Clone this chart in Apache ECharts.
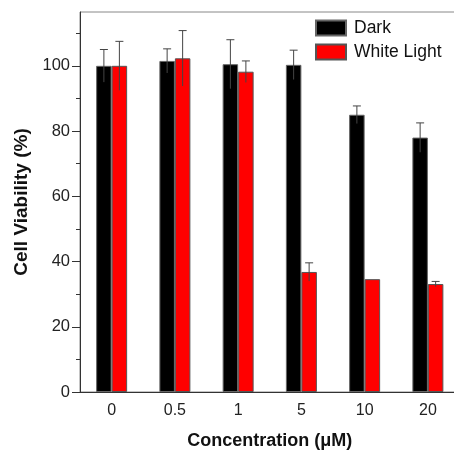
<!DOCTYPE html>
<html>
<head>
<meta charset="utf-8">
<script src="https://cdn.jsdelivr.net/npm/echarts@6/dist/echarts.min.js"></script>
<style>html,body{margin:0;padding:0;background:#fff;}#c{width:454px;height:452px;}</style>
</head>
<body>
<div id="c"></div>
<script>
const categories = ['0', '0.5', '1', '5', '10', '20'];
const darkValues = [100, 101.5, 100.5, 100.3, 85, 78];
const darkErrors = [5, 3.7, 7.5, 4.5, 2.7, 4.5];
const lightValues = [100, 102.3, 98.2, 36.8, 34.6, 33.1];
const lightErrors = [7.5, 8.5, 3.3, 2.8, 0, 0.8];
const yMajorTicks = [0, 20, 40, 60, 80, 100];
const yMinorTicks = [10, 30, 50, 70, 90, 110];

const FONT = 'Arial, "Liberation Sans", sans-serif';
const BW = 15.5;

function errRender(sign, color) {
  return function (params, api) {
    const i = api.value(0), v = api.value(1), e = api.value(2);
    if (!e) return null;
    const c = api.coord([i, v]);
    const x = c[0] + sign * BW / 2;
    const top = api.coord([i, v + e])[1];
    const bot = api.coord([i, v - e])[1];
    return {
      type: 'group',
      children: [
        {type: 'line', shape: {x1: x, y1: top, x2: x, y2: bot}, style: {stroke: color, lineWidth: 1}},
        {type: 'line', shape: {x1: x - 4, y1: top, x2: x + 4, y2: top}, style: {stroke: color, lineWidth: 1}}
      ]
    };
  };
}

const chart = echarts.init(document.getElementById('c'), null, {renderer: 'canvas'});
chart.setOption({
  backgroundColor: '#fff',
  animation: false,
  textStyle: {fontFamily: FONT},
  grid: {left: 80, top: 12, width: 379.5, height: 380, outerBoundsMode: 'none', containLabel: false,
    show: true, borderColor: '#888', borderWidth: 1, backgroundColor: 'transparent'},
  legend: {
    orient: 'vertical', left: 310, top: 14, itemWidth: 30, itemHeight: 15, itemGap: 6,
    icon: 'rect',
    textStyle: {fontSize: 17.5, color: '#111', fontFamily: FONT, padding: [0, 0, 0, 3]},
    data: ['Dark', 'White Light']
  },
  xAxis: [
    {
      type: 'category', data: categories, position: 'bottom',
      axisLine: {lineStyle: {color: '#333', width: 1}},
      axisTick: {alignWithLabel: true, length: 5, lineStyle: {color: '#333'}},
      axisLabel: {fontSize: 16, color: '#222', margin: 11, fontFamily: FONT},
      name: 'Concentration (\u03BCM)', nameLocation: 'middle', nameGap: 40,
      nameTextStyle: {fontSize: 18, fontWeight: 'bold', color: '#111', fontFamily: FONT}
    },
    {
      type: 'category', data: categories, position: 'bottom',
      axisLine: {show: false},
      axisTick: {alignWithLabel: false, length: 5, lineStyle: {color: '#333'}},
      axisLabel: {show: false}
    }
  ],
  yAxis: [
    {
      type: 'value', min: 0, max: 116.5, position: 'left',
      axisLine: {show: true, lineStyle: {color: '#333', width: 1}},
      axisTick: {show: true, length: 8, customValues: yMajorTicks, lineStyle: {color: '#333'}},
      axisLabel: {fontSize: 16.5, color: '#222', margin: 10, customValues: yMajorTicks, fontFamily: FONT},
      splitLine: {show: false},
      name: 'Cell Viability (%)', nameLocation: 'middle', nameGap: 49,
      nameTextStyle: {fontSize: 19, fontWeight: 'bold', color: '#111', fontFamily: FONT}
    },
    {
      type: 'value', min: 0, max: 116.5, position: 'left',
      axisLine: {show: false},
      axisTick: {show: true, length: 4, customValues: yMinorTicks, lineStyle: {color: '#333'}},
      axisLabel: {show: false},
      splitLine: {show: false}
    }
  ],
  series: [
    {
      name: 'Dark', type: 'bar', data: darkValues, barWidth: BW, barGap: '0%',
      itemStyle: {color: '#000', borderColor: '#666', borderWidth: 1}
    },
    {
      name: 'White Light', type: 'bar', data: lightValues, barWidth: BW, barGap: '0%',
      itemStyle: {color: '#ff0000', borderColor: '#555', borderWidth: 1}
    },
    {
      type: 'custom', renderItem: errRender(-1, '#444'), z: 5,
      data: darkValues.map((v, i) => [i, v, darkErrors[i]]), encode: {x: 0, y: 1}, silent: true
    },
    {
      type: 'custom', renderItem: errRender(1, '#444'), z: 5,
      data: lightValues.map((v, i) => [i, v, lightErrors[i]]), encode: {x: 0, y: 1}, silent: true
    }
  ]
});
</script>
</body>
</html>
